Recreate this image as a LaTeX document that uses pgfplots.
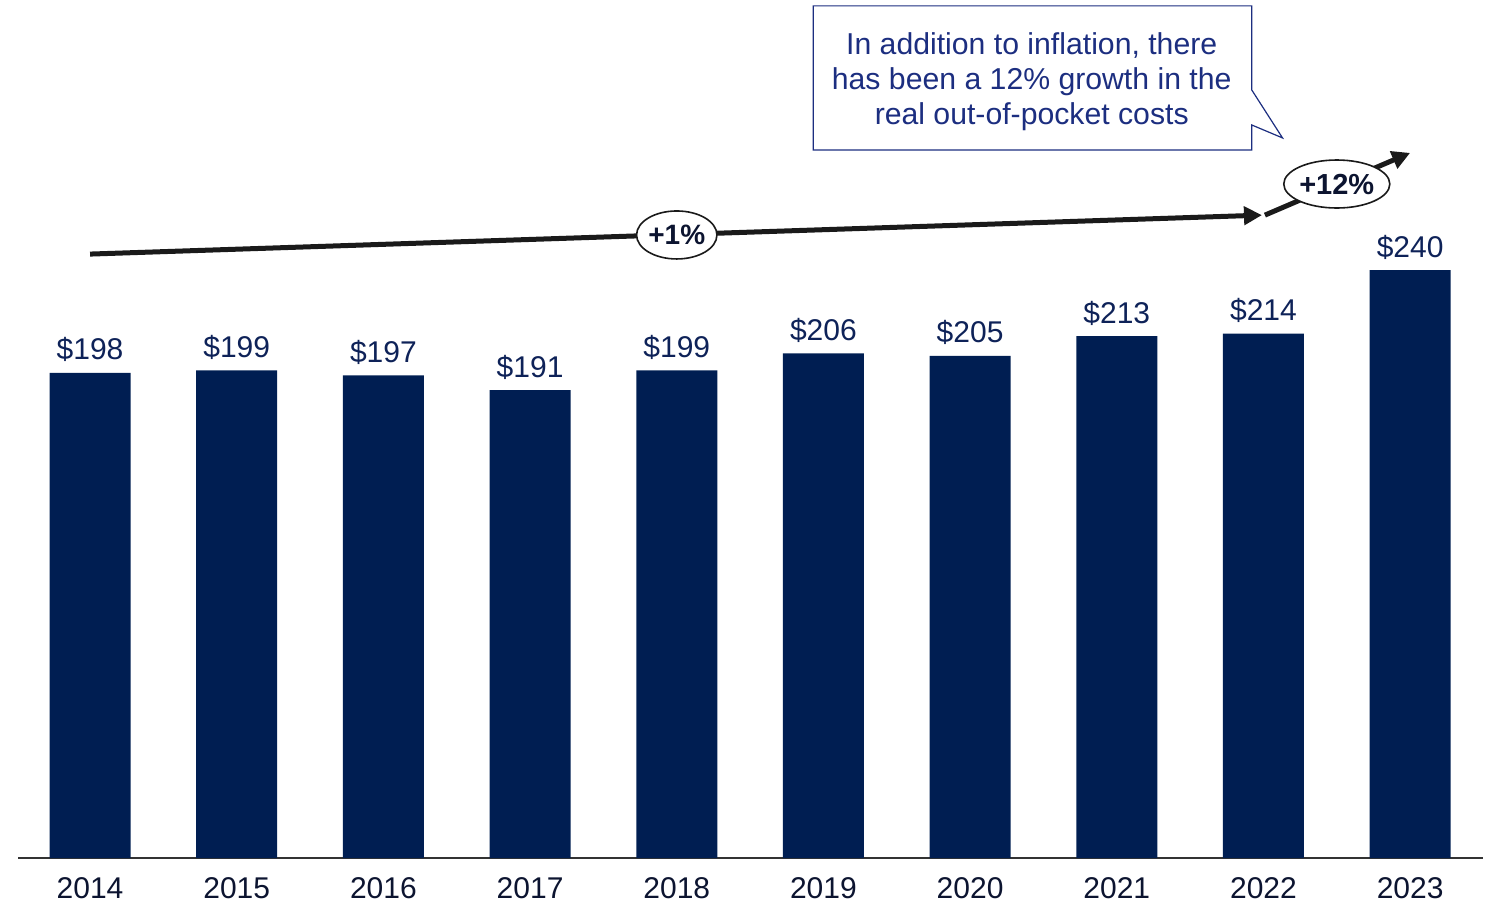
\documentclass[border=0pt]{standalone}
\usepackage{pgfplots}
\pgfplotsset{compat=1.18}
\usepackage{fontspec}
\setmainfont{Liberation Sans}
\usetikzlibrary{arrows.meta,shapes.geometric}

\definecolor{barnavy}{RGB}{0,30,82}
\definecolor{labnavy}{RGB}{14,34,88}
\definecolor{yeardark}{RGB}{12,20,48}
\definecolor{calloutblue}{RGB}{28,46,128}
\definecolor{trend}{RGB}{26,26,26}

\begin{document}
\begin{tikzpicture}
  \begin{axis}[
    scale only axis,
    width=732.6pt,
    height=429.0pt,
    xmin=-0.49, xmax=9.50,
    ymin=0, ymax=350.2,
    enlargelimits=false,
    clip=false,
    axis x line=bottom,
    axis y line=none,
    axis line style={-, draw=black!80, line width=1pt},
    xtick=data,
    xticklabels={2014,2015,2016,2017,2018,2019,2020,2021,2022,2023},
    major tick length=0pt,
    xticklabel style={font=\fontsize{15}{18}\selectfont, text=yeardark,
      anchor=base, yshift=-20pt, inner sep=0pt},
    /pgf/number format/assume math mode=true,
    ybar, bar width=40.5pt,
    nodes near coords={\$\pgfmathprintnumber{\pgfplotspointmeta}},
    every node near coord/.append style={font=\fontsize{15}{18}\selectfont,
      text=labnavy, anchor=base, inner sep=0pt, yshift=6.5pt},
    ]
    \addplot[fill=barnavy, draw=none] coordinates {
      (0,198) (1,199) (2,197) (3,191) (4,199)
      (5,206) (6,205) (7,213) (8,214) (9,240)
    };

    % trend arrows
    \draw[trend, line width=2.5pt, -{Triangle[length=9pt,width=9pt]}]
      (axis cs:0,246.5) -- (axis cs:7.99,262.4);
    \draw[trend, line width=2.5pt, -{Triangle[length=9pt,width=9pt]}]
      (axis cs:8.01,262.4) -- (axis cs:9.0,287.8);
    \node[ellipse, draw=trend, line width=0.8pt, fill=white, inner sep=0pt,
      minimum width=40pt, minimum height=24pt, text=yeardark,
      font=\bfseries\fontsize{14}{15}\selectfont] at (axis cs:4.0,254.3) {+1\%};
    \node[ellipse, draw=trend, line width=0.8pt, fill=white, inner sep=0pt,
      minimum width=53pt, minimum height=24pt, text=yeardark,
      font=\bfseries\fontsize{14.5}{16}\selectfont] at (axis cs:8.50,275.1) {+12\%};

    % callout
    \draw[calloutblue, line width=0.6pt, fill=white]
      (axis cs:4.93,347.8) -- (axis cs:7.92,347.8) -- (axis cs:7.92,313.5)
      -- (axis cs:8.13,293.9) -- (axis cs:7.92,299.2) -- (axis cs:7.92,289.0)
      -- (axis cs:4.93,289.0) -- cycle;
    \node[align=center, text=calloutblue, inner sep=0pt,
      font=\fontsize{15.1}{17.5}\selectfont] at (axis cs:6.42,317.0)
      {In addition to inflation, there\\has been a 12\% growth in the\\real out-of-pocket costs};

    \coordinate (bbA) at (axis cs:-0.614,-18.4);
    \coordinate (bbB) at (axis cs:9.531,350.2);
  \end{axis}
  \pgfresetboundingbox
  \useasboundingbox (bbA) rectangle (bbB);
\end{tikzpicture}
\end{document}
